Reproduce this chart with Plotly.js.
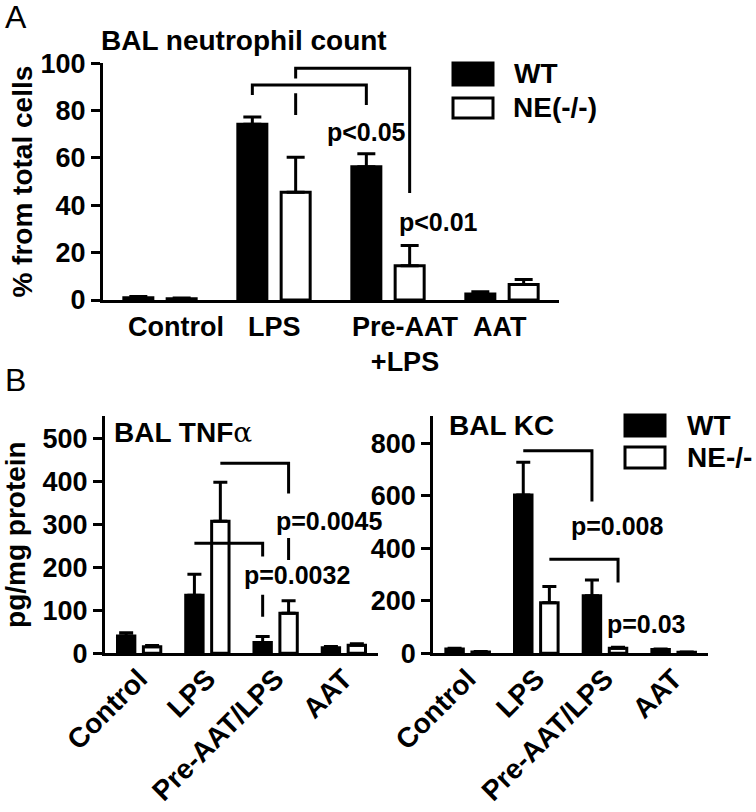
<!DOCTYPE html>
<html><head><meta charset="utf-8">
<script src="https://cdn.plot.ly/plotly-3.0.1.min.js"></script>
<style>html,body{margin:0;padding:0;background:#fff}#chart{width:756px;height:812px}</style>
</head><body><div id="chart"></div>
<script>
// ---------- data ----------
const categoriesA = ['Control', 'LPS', 'Pre-AAT +LPS', 'AAT'];
const labelsA = ['Control', 'LPS', 'Pre-AAT<br>+LPS', 'AAT'];
const neutWT = [1.0, 74.3, 56.3, 2.5];
const neutWTerr = [0.5, 3.0, 5.5, 1.0];
const neutNE = [0.5, 45.5, 14.5, 6.5];
const neutNEerr = [0.3, 14.8, 8.5, 2.2];

const categoriesB = ['Control', 'LPS', 'Pre-AAT/LPS', 'AAT'];
const tnfWT = [40, 135, 25, 13];
const tnfWTerr = [8, 49, 14, 3];
const tnfNE = [15, 307, 93, 19];
const tnfNEerr = [3, 91, 29, 3];
const kcWT = [16, 603, 219, 14];
const kcWTerr = [3, 125, 60, 2];
const kcNE = [5, 193, 19, 4];
const kcNEerr = [2, 61, 4, 1];

const seriesNamesA = ['WT', 'NE(-/-)'];
const seriesNamesB = ['WT', 'NE-/-'];
const pLabelsA = ['p<0.05', 'p<0.01'];
const pLabelsTNF = ['p=0.0045', 'p=0.0032'];
const pLabelsKC = ['p=0.008', 'p=0.03'];

// ---------- helpers ----------
const W = 756, H = 812;
const PX = v => v / W;
const PY = v => 1 - v / H;
const FONT = 'Liberation Sans, Arial, Helvetica, sans-serif';
const bold = (size) => ({family: FONT, size: size, color: '#000', weight: 'bold'});
const BARGAP = 0.24, GROUPGAP = 0.33;
const o = (1 - BARGAP) / 4; // offset of each bar centre from group centre

function barTrace(name, x, y, err, fill, xa, ya, capw) {
  return {
    type: 'bar', name: name, x: x, y: y, xaxis: xa, yaxis: ya,
    marker: {color: fill, line: {color: '#000', width: 3}},
    error_y: {type: 'data', symmetric: false, array: err, arrayminus: err.map(() => 0),
              color: '#000', thickness: 3, width: capw},
    showlegend: false, hoverinfo: 'skip'
  };
}

const data = [
  barTrace(seriesNamesA[0], categoriesA, neutWT, neutWTerr, '#000', 'x', 'y', 9),
  barTrace(seriesNamesA[1], categoriesA, neutNE, neutNEerr, '#fff', 'x', 'y', 9),
  barTrace(seriesNamesB[0], categoriesB, tnfWT, tnfWTerr, '#000', 'x2', 'y2', 7),
  barTrace(seriesNamesB[1], categoriesB, tnfNE, tnfNEerr, '#fff', 'x2', 'y2', 7),
  barTrace(seriesNamesB[0], categoriesB, kcWT, kcWTerr, '#000', 'x3', 'y3', 7),
  barTrace(seriesNamesB[1], categoriesB, kcNE, kcNEerr, '#fff', 'x3', 'y3', 7)
];

function xax(domain, showLabels) {
  return {
    domain: domain, range: [-0.5, 3.5], type: 'category',
    showline: true, linecolor: '#000', linewidth: 3, ticks: '',
    showticklabels: showLabels, tickangle: -45, tickfont: bold(28), ticklabelstandoff: -5,
    showgrid: false, zeroline: false, fixedrange: true
  };
}
function yax(domain, range, dtick, title, xa, standoff) {
  return {
    domain: domain, range: range, dtick: dtick, anchor: xa,
    showline: true, linecolor: '#000', linewidth: 3,
    ticks: 'outside', ticklen: 9, tickwidth: 3, tickcolor: '#000',
    tickfont: bold(27), showgrid: false, zeroline: false, fixedrange: true,
    title: title ? {text: title, font: bold(28), standoff: standoff} : undefined
  };
}

const lineStyle = {color: '#000', width: 3};
function path(xa, ya, pts) {
  return {type: 'path', xref: xa, yref: ya, line: lineStyle,
          path: pts.map((p, i) => (i ? 'L' : 'M') + p[0] + ',' + p[1]).join(' ')};
}
function rect(x0, y0, x1, y1, fill) {
  return {type: 'rect', xref: 'paper', yref: 'paper', x0: PX(x0), x1: PX(x1), y0: PY(y1), y1: PY(y0),
          fillcolor: fill, line: {color: '#000', width: 3}};
}

const shapes = [
  // panel A brackets
  path('x', 'y', [[1 - o, 86.6], [1 - o, 90.8], [2 - o, 90.8], [2 - o, 82.4]]),
  path('x', 'y', [[1 + o, 93.6], [1 + o, 97.9], [2 + o, 97.9], [2 + o, 45.2]]),
  path('x', 'y', [[1 + o, 87.3], [1 + o, 78.2]]),
  // TNF brackets
  path('x2', 'y2', [[1 + o, 442], [2 + o, 442], [2 + o, 372]]),
  path('x2', 'y2', [[2 + o, 268], [2 + o, 217]]),
  path('x2', 'y2', [[1 - o, 256], [2 - o, 256], [2 - o, 225]]),
  path('x2', 'y2', [[2 - o, 136], [2 - o, 85]]),
  // KC brackets
  path('x3', 'y3', [[1 - o, 772], [2 - o, 772], [2 - o, 578]]),
  path('x3', 'y3', [[1 + o, 358], [2 + o, 358], [2 + o, 270]]),
  // legend swatches
  rect(453, 63, 493, 85, '#000'),
  rect(453, 98, 493, 118, '#fff'),
  rect(625, 415, 665, 436, '#000'),
  rect(625, 447, 665, 468, '#fff')
];

function txt(text, x, y, size, opts) {
  return Object.assign({text: text, x: x, y: y, xref: 'paper', yref: 'paper',
    xanchor: 'left', yanchor: 'middle', showarrow: false, font: bold(size)}, opts || {});
}
function ptxt(text, xa, ya, x, y) {
  return {text: text, x: x, y: y, xref: xa, yref: ya, xanchor: 'center', yanchor: 'middle',
          showarrow: false, font: bold(25)};
}

const plain = {family: FONT, size: 32, color: '#000', weight: 'normal'};
const labelShift = [16, 0, 17, -2];
const annotations = [
  txt('A', PX(3), PY(17), 32, {font: plain}),
  txt('B', PX(3), PY(380), 32, {font: plain}),
  txt('BAL neutrophil count', PX(99), PY(40), 28),
  txt('BAL TNF<span style="font-family:DejaVu Serif;font-weight:normal">α</span>', PX(112), PY(432), 28),
  txt('BAL KC', PX(447), PY(425), 28),
  txt(seriesNamesA[0], PX(512), PY(74), 28),
  txt(seriesNamesA[1], PX(511), PY(108), 28),
  txt(seriesNamesB[0], PX(685), PY(425.5), 28),
  txt(seriesNamesB[1], PX(685), PY(457.5), 28),
  ptxt(pLabelsA[0], 'x', 'y', 2 - o, 71),
  ptxt(pLabelsA[1], 'x', 'y', 2.44, 33),
  ptxt(pLabelsTNF[0], 'x2', 'y2', 2.78, 308),
  ptxt(pLabelsTNF[1], 'x2', 'y2', 2.31, 182),
  ptxt(pLabelsKC[0], 'x3', 'y3', 2.18, 486),
  ptxt(pLabelsKC[1], 'x3', 'y3', 2.60, 111)
];
categoriesA.forEach((c, i) => {
  annotations.push({text: labelsA[i], x: c, y: PY(310), xref: 'x', yref: 'paper',
    xanchor: 'center', yanchor: 'top', xshift: labelShift[i], showarrow: false,
    font: bold(27), align: 'center'});
});

const layout = {
  width: W, height: H, margin: {l: 0, r: 0, t: 0, b: 0},
  paper_bgcolor: '#fff', plot_bgcolor: 'rgba(0,0,0,0)',
  barmode: 'group', bargap: BARGAP, bargroupgap: GROUPGAP,
  showlegend: false, font: bold(27),
  xaxis: Object.assign(xax([PX(103), PX(559)], false), {anchor: 'y'}),
  yaxis: yax([PY(300), PY(63.3)], [0, 100], 20, '% from total cells', 'x', 0),
  xaxis2: Object.assign(xax([PX(105), PX(378)], true), {anchor: 'y2'}),
  yaxis2: yax([PY(653.3), PY(416)], [0, 552], 100, 'pg/mg protein', 'x2', 10),
  xaxis3: Object.assign(xax([PX(433.3), PX(708)], true), {anchor: 'y3'}),
  yaxis3: yax([PY(653.3), PY(416)], [0, 904], 200, null, 'x3', 10),
  shapes: shapes,
  annotations: annotations
};

Plotly.newPlot('chart', data, layout, {staticPlot: true, displayModeBar: false});
</script>
</body></html>
